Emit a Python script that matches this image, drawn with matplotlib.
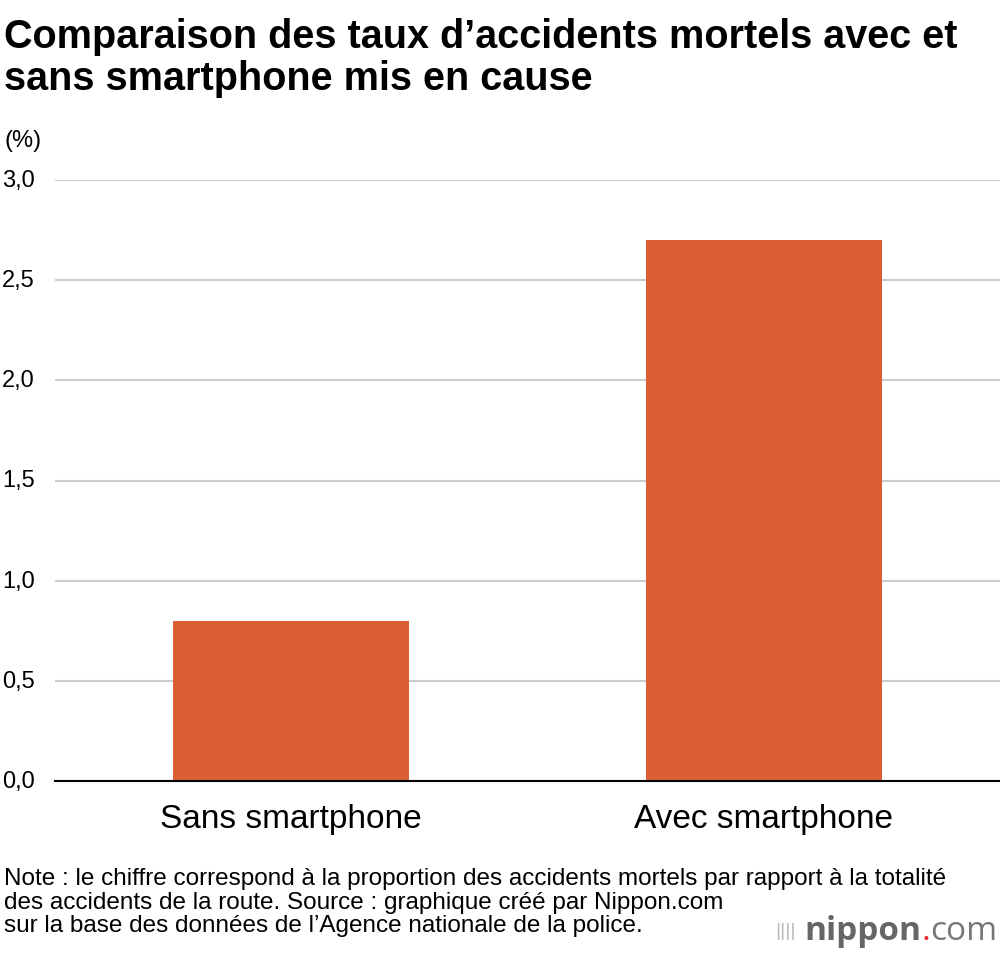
import matplotlib.pyplot as plt

categories = ["Sans smartphone", "Avec smartphone"]
values = [0.8, 2.7]
yticks = [0.0, 0.5, 1.0, 1.5, 2.0, 2.5, 3.0]
ylabels = ["0,0", "0,5", "1,0", "1,5", "2,0", "2,5", "3,0"]

plt.rcParams['font.family'] = ['Liberation Sans', 'DejaVu Sans']
fig = plt.figure(figsize=(10, 9.54), dpi=100)
ax = fig.add_axes([0.055, 1 - 782 / 954, 0.945, 601 / 954])

ax.bar(range(len(categories)), values, width=0.5, color='#D95F33', zorder=3)
ax.set_xlim(-0.5, 1.5)
ax.set_ylim(0, 3.0)
ax.set_yticks(yticks)
ax.set_yticklabels([])
for y, lab in zip(yticks, ylabels):
    ax.text(0.002, y, lab, transform=ax.get_yaxis_transform().__class__(fig.transFigure, ax.transData),
            fontsize=17, ha='left', va='center')
ax.set_xticks(range(len(categories)))
ax.set_xticklabels(categories, fontsize=24)
ax.tick_params(axis='y', length=0)
ax.tick_params(axis='x', length=0, pad=16)
ax.grid(axis='y', color='#cccccc', linewidth=1.5, zorder=0)
for s in ['top', 'right', 'left']:
    ax.spines[s].set_visible(False)
ax.spines['bottom'].set_linewidth(1.5)
ax.spines['bottom'].set_zorder(4)

fig.text(0.004, 1 - 18 / 954, "Comparaison des taux d\u2019accidents mortels avec et\nsans smartphone mis en cause",
         fontsize=28.5, fontweight='bold', va='top', linespacing=1.15)
fig.text(0.004, 1 - 141 / 954, "(%)", fontsize=17, va='center')
fig.text(0.004, 1 - 868 / 954,
         "Note : le chiffre correspond \u00e0 la proportion des accidents mortels par rapport \u00e0 la totalit\u00e9\n"
         "des accidents de la route. Source : graphique cr\u00e9\u00e9 par Nippon.com\n"
         "sur la base des donn\u00e9es de l\u2019Agence nationale de la police.",
         fontsize=17.5, va='top', linespacing=1.1)

# logo, laid out right to left
fig.canvas.draw()
r = fig.canvas.get_renderer()
ly = 1 - 932 / 954
lf = ['Open Sans', 'DejaVu Sans']
t = fig.text(0.997, ly, "com", fontsize=24, color='#777777', va='center', ha='right', family=lf)
x = t.get_window_extent(r).x0 / 1000
t = fig.text(x, ly, ".", fontsize=24, color='#e8262b', va='center', ha='right', family=lf)
x = t.get_window_extent(r).x0 / 1000
t = fig.text(x, ly, "nippon", fontsize=24, fontweight='bold', color='#666666', va='center', ha='right', family=lf)
x = t.get_window_extent(r).x0 / 1000
fig.text(x - 0.008, ly, "||||", fontsize=14, color='#bbbbbb', va='center', ha='right')

fig.savefig("out.png", dpi=100)
